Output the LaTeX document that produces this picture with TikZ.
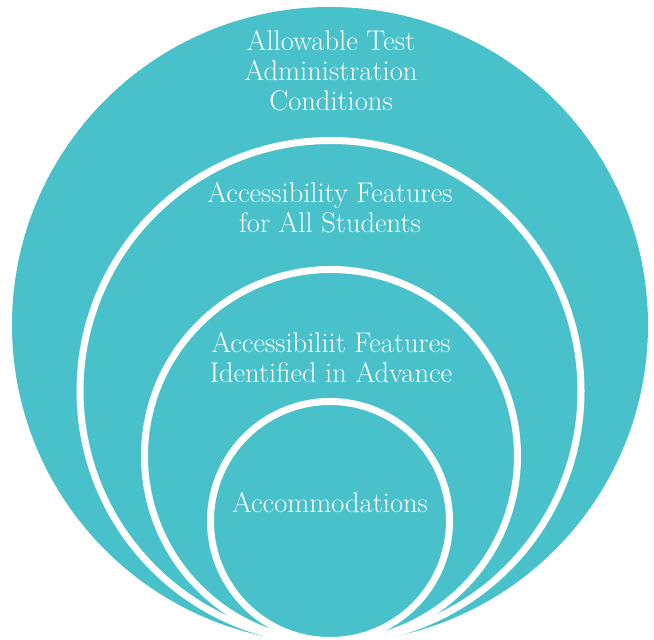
\documentclass[tikz,border=0pt]{standalone}
\usepackage{xcolor}
\definecolor{ringteal}{HTML}{48C1CB}
\usetikzlibrary{positioning}

\begin{document}
\begin{tikzpicture}[x=1pt, y=1pt,
    ring/.style={fill=ringteal, draw=white, line width=7pt},
    ringtext/.style={text=white, align=center, anchor=base,
                     font=\fontsize{28.5}{30}\selectfont}
  ]
  \useasboundingbox (0,0) rectangle (654,640);
  \clip (0,0) rectangle (654,640);
  \fill[ringteal] (330,315) circle[radius=318];
  \draw[ring] (330.5,249) circle[radius=250.5];
  \draw[ring] (331,184) circle[radius=186.5];
  \draw[ring] (330,119) circle[radius=119.5];
  \node[ringtext] (allowed) at (331,529) {Allowable Test\\Administration\\Conditions};
  \node[ringtext] (allfeat) at (330,407) {Accessibility Features\\for All Students};
  \node[ringtext] (advfeat) at (331,257) {Accessibiliit Features\\Identified in Advance};
  \node[ringtext] (accom) at (330,127) {Accommodations};
\end{tikzpicture}
\end{document}
